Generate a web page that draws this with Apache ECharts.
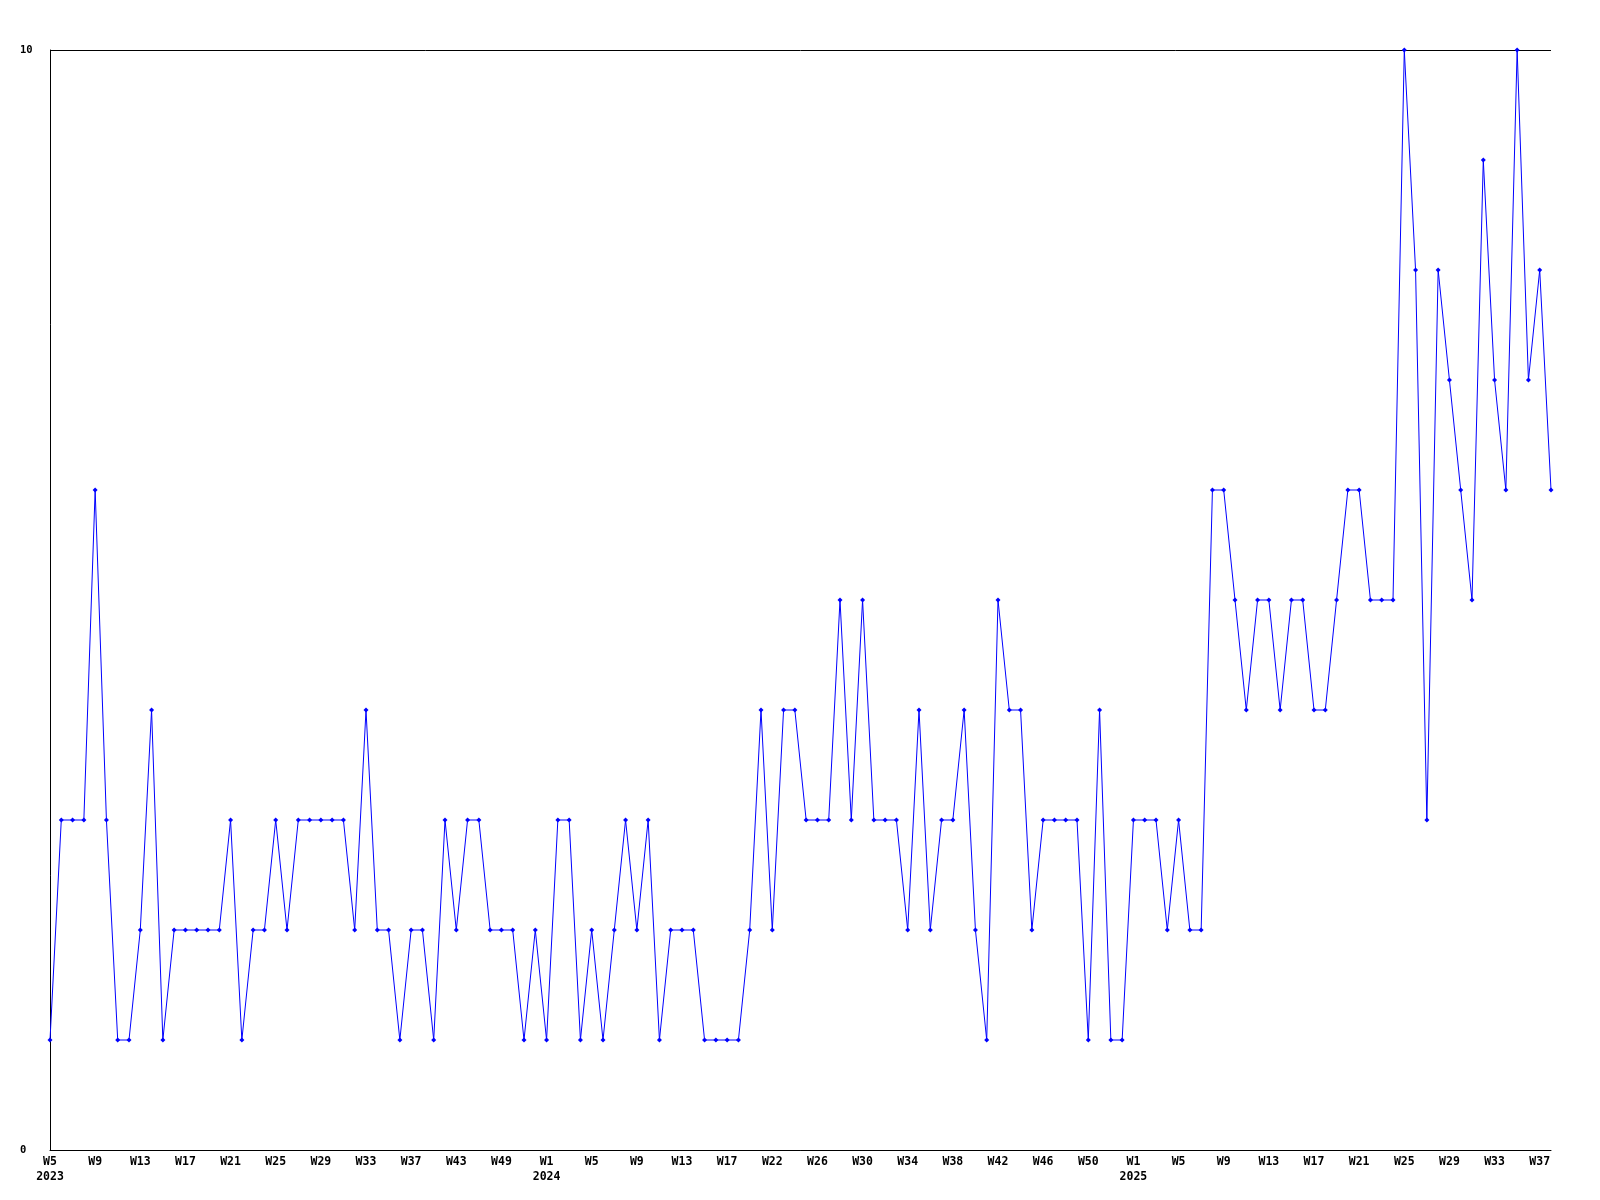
<!DOCTYPE html>
<html>
<head>
<meta charset="utf-8">
<title>weekly count</title>
<script src="https://cdn.jsdelivr.net/npm/echarts@6/dist/echarts.min.js"></script>
<style>
  html, body { margin: 0; padding: 0; background: #fff; }
  #main { width: 1600px; height: 1200px; }
</style>
</head>
<body>
<div id="main"></div>
<script>
// weeks with data, per year (some weeks are missing)
const weeks2023 = [5, 6, 7, 8, 9, 10, 11, 12, 13, 14, 15, 16, 17, 18, 19, 20, 21, 22, 23, 24, 25, 26, 27, 28, 29, 30, 31, 32, 33, 34, 35, 36, 37,
  39, 40, 42, 43, 45, 46, 48, 49, 50, 51, 52]
const weeks2024 = [1, 2, 3, 4, 5, 6, 7, 8, 9, 10, 11, 12, 13, 14, 15, 16, 17, 18, 19, 21,
  22, 23, 24, 25, 26, 27, 28, 29, 30, 31, 32, 33, 34, 35, 36, 37, 38, 39, 40, 41, 42, 43, 44, 45, 46, 47, 48, 49, 50, 51, 52, 53]
const weeks2025 = [1, 2, 3, 4, 5, 6, 7, 8, 9, 10, 11, 12, 13, 14, 15, 16, 17, 18, 19, 20, 21, 22, 23, 24, 25, 26, 27, 28, 29, 30, 31, 32, 33, 34, 35, 36, 37, 38]

// one value per week
const counts = [
  1, 3, 3, 3, 6, 3, 1, 1, 2, 4,
  1, 2, 2, 2, 2, 2, 3, 1, 2, 2,
  3, 2, 3, 3, 3, 3, 3, 2, 4, 2,
  2, 1, 2, 2, 1, 3, 2, 3, 3, 2,
  2, 2, 1, 2, 1, 3, 3, 1, 2, 1,
  2, 3, 2, 3, 1, 2, 2, 2, 1, 1,
  1, 1, 2, 4, 2, 4, 4, 3, 3, 3,
  5, 3, 5, 3, 3, 3, 2, 4, 2, 3,
  3, 4, 2, 1, 5, 4, 4, 2, 3, 3,
  3, 3, 1, 4, 1, 1, 3, 3, 3, 2,
  3, 2, 2, 6, 6, 5, 4, 5, 5, 4,
  5, 5, 4, 4, 5, 6, 6, 5, 5, 5,
  10, 8, 3, 8, 7, 6, 5, 9, 7, 6,
  10, 7, 8, 6
]

const yTicks = [0, 10]

// category names like '2023 W5'
const categories = []
weeks2023.forEach(w => categories.push('2023 W' + w))
weeks2024.forEach(w => categories.push('2024 W' + w))
weeks2025.forEach(w => categories.push('2025 W' + w))

const labelFont = {
  fontFamily: 'DejaVu Sans Mono',
  fontWeight: 'bold',
  fontSize: 11.5,
  color: '#000'
}

const myChart = echarts.init(document.getElementById('main'), null, { renderer: 'canvas' })
myChart.setOption({
  backgroundColor: '#fff',
  animation: false,
  grid: { left: 50, top: 50, right: 49, bottom: 50 },
  xAxis: {
    type: 'category',
    data: categories,
    boundaryGap: false,
    axisLine: { show: true, lineStyle: { color: '#000', width: 1 } },
    axisTick: { show: false },
    splitLine: { show: false },
    axisLabel: {
      // every 4th week, last week left unlabelled
      interval: function (idx) { return idx % 4 === 0 && idx < categories.length - 1 },
      hideOverlap: false,
      margin: 5,
      lineHeight: 15,
      ...labelFont,
      formatter: function (value, idx) {
        const parts = value.split(' ')
        // year under the first week of each year
        if (idx === 0 || categories[idx - 1].split(' ')[0] !== parts[0]) {
          return parts[1] + '\n' + parts[0]
        }
        return parts[1]
      }
    }
  },
  yAxis: {
    type: 'value',
    min: yTicks[0],
    max: yTicks[yTicks.length - 1],
    interval: 10,
    axisLine: { show: true, lineStyle: { color: '#000', width: 1 } },
    axisTick: { show: false },
    splitLine: { show: true, lineStyle: { color: '#000', width: 1 } },
    axisLabel: {
      align: 'left',
      margin: 30,
      ...labelFont,
      fontSize: 10.5
    }
  },
  series: [{
    type: 'line',
    data: counts,
    symbol: 'diamond',
    symbolSize: 5,
    showAllSymbol: true,
    itemStyle: { color: '#0000ff' },
    lineStyle: { color: '#0000ff', width: 1 }
  }]
})
</script>
</body>
</html>
